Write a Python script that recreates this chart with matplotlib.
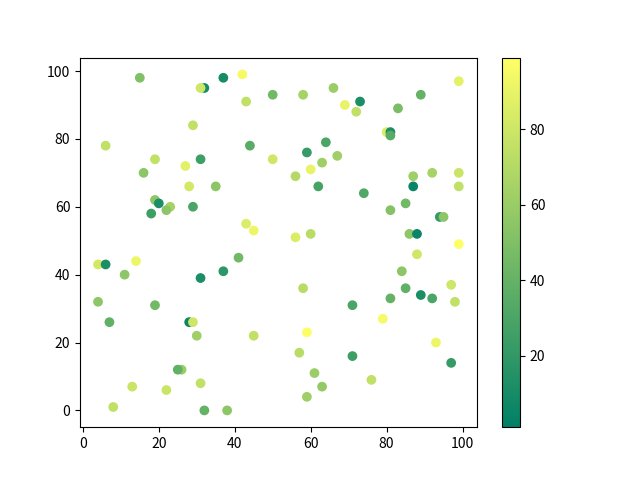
import matplotlib
matplotlib.use("Agg")
import matplotlib.pyplot as plt

plt.rcParams['font.family'] = ['Noto Sans CJK SC', 'DejaVu Sans']

# scatter points (x, y, colour value)
x = [15, 32, 31, 37, 42, 50, 43, 29, 6, 44,
     19, 31, 50, 27, 16, 28, 35, 19, 20, 18,
     23, 22, 29, 43, 45, 4, 6, 14, 11, 31,
     37, 41, 4, 19, 7, 28, 29, 30, 45, 26,
     25, 13, 22, 31, 8, 32, 38, 58, 66, 69,
     73, 72, 83, 89, 99, 80, 81, 81, 64, 59,
     67, 63, 60, 56, 62, 87, 92, 99, 87, 99,
     74, 85, 81, 94, 95, 60, 56, 86, 88, 99,
     88, 84, 58, 85, 97, 89, 92, 81, 98, 71,
     79, 59, 93, 57, 71, 97, 61, 76, 63, 59]
y = [98, 95, 95, 98, 99, 93, 91, 84, 78, 78,
     74, 74, 74, 72, 70, 66, 66, 62, 61, 58,
     60, 59, 60, 55, 53, 43, 43, 44, 40, 39,
     41, 45, 32, 31, 26, 26, 26, 22, 22, 12,
     12, 7, 6, 8, 1, 0, 0, 93, 95, 90,
     91, 88, 89, 93, 97, 82, 82, 81, 79, 76,
     75, 73, 71, 69, 66, 69, 70, 70, 66, 66,
     64, 61, 59, 57, 57, 52, 51, 52, 52, 49,
     46, 41, 36, 36, 37, 34, 33, 33, 32, 31,
     27, 23, 20, 17, 16, 14, 11, 9, 7, 4]
c = [50, 10, 80, 10, 95, 45, 75, 75, 75, 35,
     75, 25, 80, 88, 55, 82, 55, 55, 12, 25,
     65, 55, 30, 85, 92, 82, 12, 92, 55, 12,
     18, 45, 55, 45, 38, 5, 80, 62, 75, 60,
     38, 78, 78, 75, 75, 40, 55, 65, 60, 90,
     12, 75, 48, 40, 88, 85, 12, 35, 30, 22,
     62, 62, 90, 70, 28, 62, 65, 78, 5, 75,
     32, 45, 52, 22, 55, 72, 85, 55, 5, 98,
     80, 55, 72, 38, 80, 12, 30, 40, 75, 30,
     95, 98, 92, 72, 25, 22, 60, 75, 58, 62]
c[0] = 50
c[-1] = 62
c_min, c_max = 1, 99

fig = plt.figure(figsize=(6.4, 4.8), dpi=100)
sc = plt.scatter(x, y, c=c, cmap="summer", vmin=c_min, vmax=c_max)
plt.colorbar(sc)
plt.savefig("out.png", dpi=100)
